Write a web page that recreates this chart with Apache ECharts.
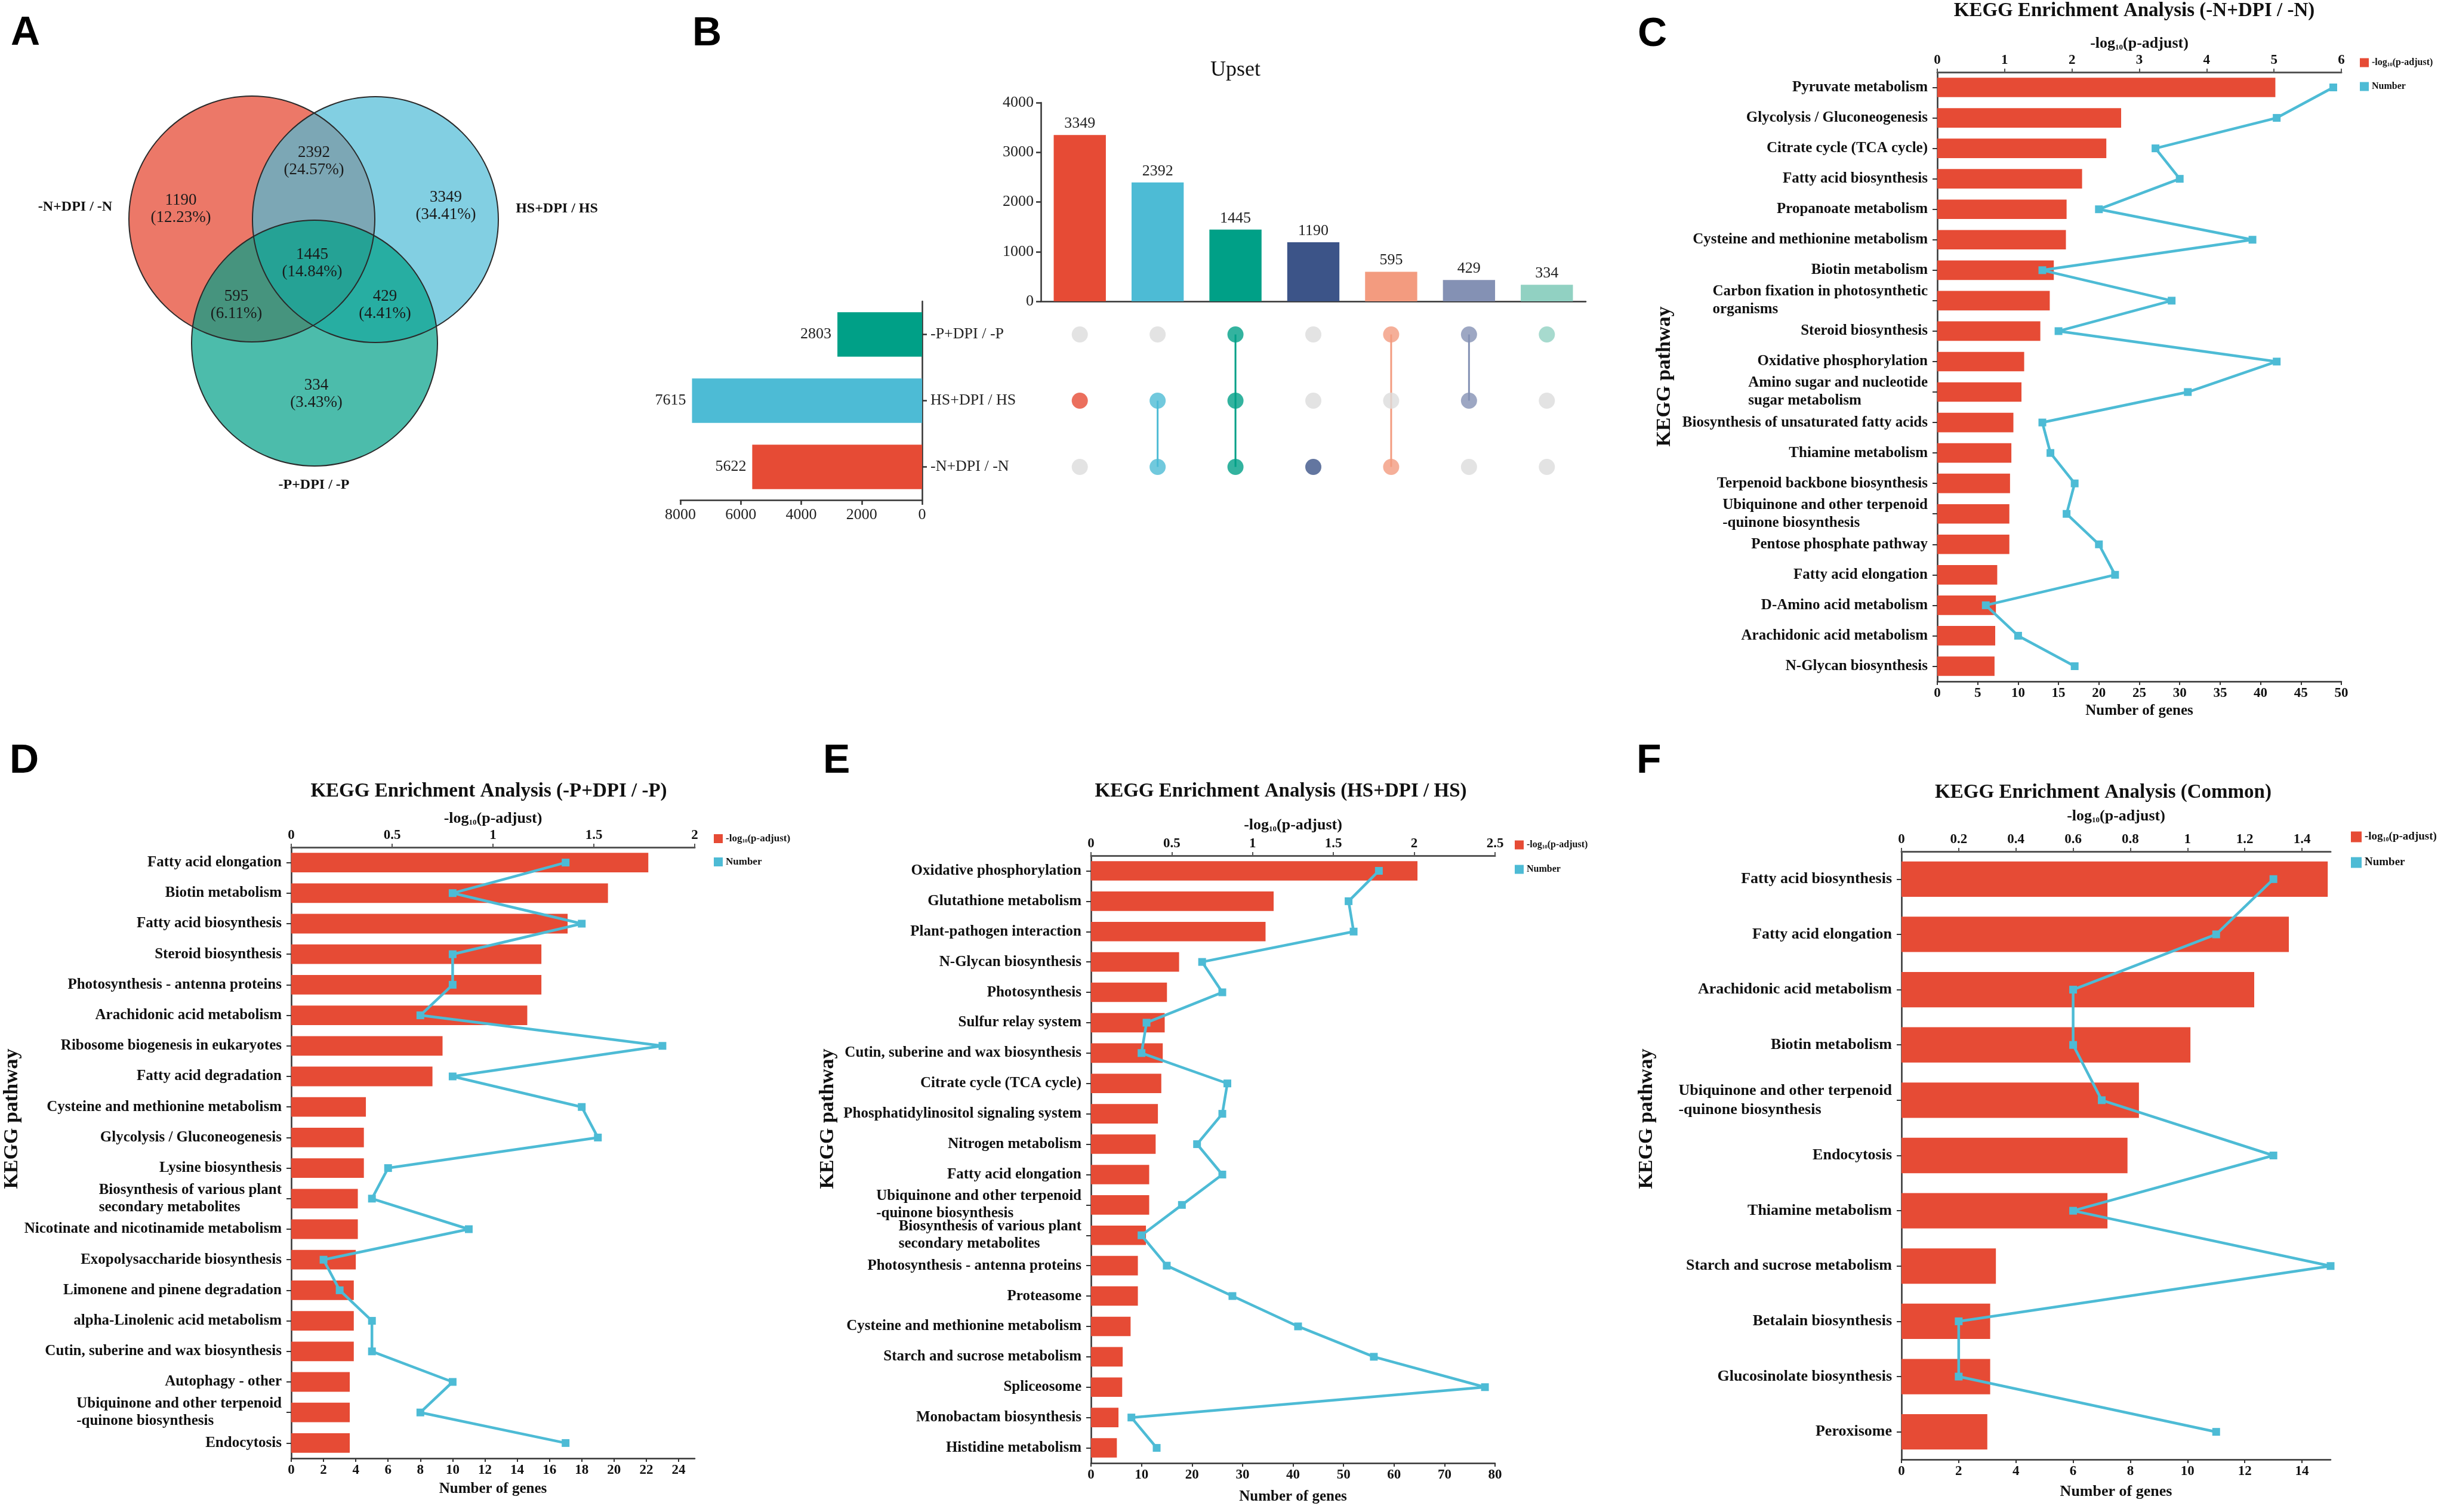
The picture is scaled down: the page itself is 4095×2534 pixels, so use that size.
<!DOCTYPE html>
<html><head><meta charset="utf-8">
<script src="https://cdn.jsdelivr.net/npm/echarts@6/dist/echarts.min.js"></script>
<style>html,body{margin:0;padding:0;background:#fff}#c{width:4095px;height:2534px}</style>
</head><body><div id="c"></div>
<script>
// ---------------- DATA ----------------
const setNames = ['-N+DPI / -N', 'HS+DPI / HS', '-P+DPI / -P'];
const setSizes = [5622, 7615, 2803];
const interCounts = [3349, 2392, 1445, 1190, 595, 429, 334];
const interMembers = [[1], [0, 1], [0, 1, 2], [0], [0, 2], [1, 2], [2]];

const C_pathways = ['Pyruvate metabolism', 'Glycolysis / Gluconeogenesis', 'Citrate cycle (TCA cycle)', 'Fatty acid biosynthesis', 'Propanoate metabolism', 'Cysteine and methionine metabolism', 'Biotin metabolism', 'Carbon fixation in photosynthetic\norganisms', 'Steroid biosynthesis', 'Oxidative phosphorylation', 'Amino sugar and nucleotide\nsugar metabolism', 'Biosynthesis of unsaturated fatty acids', 'Thiamine metabolism', 'Terpenoid backbone biosynthesis', 'Ubiquinone and other terpenoid\n-quinone biosynthesis', 'Pentose phosphate pathway', 'Fatty acid elongation', 'D-Amino acid metabolism', 'Arachidonic acid metabolism', 'N-Glycan biosynthesis'];
const C_logp = [5.02, 2.73, 2.51, 2.15, 1.92, 1.91, 1.73, 1.67, 1.53, 1.29, 1.25, 1.13, 1.10, 1.08, 1.07, 1.07, 0.89, 0.87, 0.86, 0.85];
const C_genes = [49, 42, 27, 30, 20, 39, 13, 29, 15, 42, 31, 13, 14, 17, 16, 20, 22, 6, 10, 17];

const D_pathways = ['Fatty acid elongation', 'Biotin metabolism', 'Fatty acid biosynthesis', 'Steroid biosynthesis', 'Photosynthesis - antenna proteins', 'Arachidonic acid metabolism', 'Ribosome biogenesis in eukaryotes', 'Fatty acid degradation', 'Cysteine and methionine metabolism', 'Glycolysis / Gluconeogenesis', 'Lysine biosynthesis', 'Biosynthesis of various plant\nsecondary metabolites', 'Nicotinate and nicotinamide metabolism', 'Exopolysaccharide biosynthesis', 'Limonene and pinene degradation', 'alpha-Linolenic acid metabolism', 'Cutin, suberine and wax biosynthesis', 'Autophagy - other', 'Ubiquinone and other terpenoid\n-quinone biosynthesis', 'Endocytosis'];
const D_logp = [1.77, 1.57, 1.37, 1.24, 1.24, 1.17, 0.75, 0.70, 0.37, 0.36, 0.36, 0.33, 0.33, 0.32, 0.31, 0.31, 0.31, 0.29, 0.29, 0.29];
const D_genes = [17, 10, 18, 10, 10, 8, 23, 10, 18, 19, 6, 5, 11, 2, 3, 5, 5, 10, 8, 17];

const E_pathways = ['Oxidative phosphorylation', 'Glutathione metabolism', 'Plant-pathogen interaction', 'N-Glycan biosynthesis', 'Photosynthesis', 'Sulfur relay system', 'Cutin, suberine and wax biosynthesis', 'Citrate cycle (TCA cycle)', 'Phosphatidylinositol signaling system', 'Nitrogen metabolism', 'Fatty acid elongation', 'Ubiquinone and other terpenoid\n-quinone biosynthesis', 'Biosynthesis of various plant\nsecondary metabolites', 'Photosynthesis - antenna proteins', 'Proteasome', 'Cysteine and methionine metabolism', 'Starch and sucrose metabolism', 'Spliceosome', 'Monobactam biosynthesis', 'Histidine metabolism'];
const E_logp = [2.02, 1.13, 1.08, 0.545, 0.47, 0.456, 0.444, 0.435, 0.414, 0.40, 0.36, 0.36, 0.34, 0.29, 0.29, 0.245, 0.196, 0.193, 0.17, 0.16];
const E_genes = [57, 51, 52, 22, 26, 11, 10, 27, 26, 21, 26, 18, 10, 15, 28, 41, 56, 78, 8, 13];

const F_pathways = ['Fatty acid biosynthesis', 'Fatty acid elongation', 'Arachidonic acid metabolism', 'Biotin metabolism', 'Ubiquinone and other terpenoid\n-quinone biosynthesis', 'Endocytosis', 'Thiamine metabolism', 'Starch and sucrose metabolism', 'Betalain biosynthesis', 'Glucosinolate biosynthesis', 'Peroxisome'];
const F_logp = [1.49, 1.354, 1.233, 1.01, 0.83, 0.79, 0.72, 0.33, 0.31, 0.31, 0.30];
const F_genes = [13, 11, 6, 6, 7, 13, 6, 15, 2, 2, 11];

// ---------------- STYLE / LAYOUT ----------------
const FONT = 'Liberation Serif';
const SANS = 'Liberation Sans';
const BAR_RED = '#E64B35';
const LINE_CYAN = '#4DBBD5';
const AXIS = '#333';
const TXT = '#111';
const setColors = ['#E64B35', '#4DBBD5', '#00A087'];
const interColors = ['#E64B35', '#4DBBD5', '#00A087', '#3C5488', '#F39B7F', '#8491B4', '#91D1C2'];
const vennFill = ['rgba(230,75,53,0.75)', 'rgba(77,187,213,0.7)', 'rgba(0,160,135,0.7)'];

const grids = [], xAxes = [], yAxes = [], series = [], legends = [], graphics = [];
const axisLineStyle = { color: AXIS, width: 2.5 };
const plainNum = v => String(v);

// ---------------- Panel letters ----------------
[['A', 18, 56], ['B', 1160, 57], ['C', 2744, 58], ['D', 16, 1276], ['E', 1379, 1276], ['F', 2742, 1276]].forEach(([t, x, y]) => {
  graphics.push({ type: 'text', x, y, style: { text: t, fontFamily: SANS, fontWeight: 'bold', fontSize: 68, fill: '#000', align: 'left', verticalAlign: 'middle' } });
});

// ---------------- Panel A: Venn ----------------
const vennCircles = [[422, 367], [629, 368], [527, 575]];
const vennR = 206;
const vennLabelPos = [[126, 347], [933, 350], [526, 813]];
const vennRegionPos = [[747, 345], [526, 270], [523, 441], [303, 350], [396, 511], [645, 511], [530, 660]];
const total = interCounts.reduce((a, b) => a + b, 0);
vennCircles.forEach(([cx, cy], j) => graphics.push({ type: 'circle', shape: { cx, cy, r: vennR }, style: { fill: vennFill[j] } }));
vennCircles.forEach(([cx, cy]) => graphics.push({ type: 'circle', shape: { cx, cy, r: vennR }, style: { fill: 'none', stroke: '#2a2a2a', lineWidth: 2 } }));
setNames.forEach((n, j) => graphics.push({ type: 'text', x: vennLabelPos[j][0], y: vennLabelPos[j][1], style: { text: n, fontFamily: FONT, fontWeight: 'bold', fontSize: 24, fill: TXT, align: 'center', verticalAlign: 'middle' } }));
interCounts.forEach((v, i) => graphics.push({ type: 'text', x: vennRegionPos[i][0], y: vennRegionPos[i][1], style: { text: v + '\n(' + (v / total * 100).toFixed(2) + '%)', fontFamily: FONT, fontSize: 27, lineHeight: 29, fill: '#1a1a1a', align: 'center', verticalAlign: 'middle' } }));

// ---------------- Panel B: UpSet ----------------
graphics.push({ type: 'text', x: 2070, y: 118, style: { text: 'Upset', fontFamily: FONT, fontSize: 36, fill: TXT, align: 'center', verticalAlign: 'middle' } });
const interNames = interMembers.map(m => m.map(j => setNames[j]).join(' & '));
grids.push({ left: 1744, top: 172, width: 913, height: 333, outerBoundsMode: 'none' });
grids.push({ left: 1744, top: 505, width: 913, height: 333, outerBoundsMode: 'none' });
grids.push({ left: 1140, top: 505, width: 405, height: 333, outerBoundsMode: 'none' });
xAxes.push({ gridIndex: 0, type: 'category', data: interNames, axisLine: { lineStyle: axisLineStyle }, axisTick: { alignWithLabel: true, length: 10, lineStyle: axisLineStyle }, axisLabel: { show: false } });
yAxes.push({ gridIndex: 0, type: 'value', min: 0, max: 4000, interval: 1000, axisLine: { show: true, lineStyle: axisLineStyle }, axisTick: { show: true, length: 8, lineStyle: axisLineStyle }, splitLine: { show: false }, axisLabel: { formatter: plainNum, fontFamily: FONT, fontSize: 26, color: '#222', margin: 12 } });
xAxes.push({ gridIndex: 1, type: 'category', data: interNames, show: false });
yAxes.push({ gridIndex: 1, type: 'category', data: setNames, show: false });
xAxes.push({ gridIndex: 2, type: 'value', inverse: true, min: 0, max: 8000, interval: 2000, position: 'bottom', axisLine: { show: true, lineStyle: axisLineStyle }, axisTick: { show: true, length: 8, lineStyle: axisLineStyle }, splitLine: { show: false }, axisLabel: { formatter: plainNum, fontFamily: FONT, fontSize: 26, color: '#222', margin: 12 } });
yAxes.push({ gridIndex: 2, type: 'category', data: setNames, position: 'right', axisLine: { show: true, lineStyle: axisLineStyle }, axisTick: { show: true, alignWithLabel: true, length: 8, lineStyle: axisLineStyle }, axisLabel: { fontFamily: FONT, fontSize: 26, color: '#222', margin: 14 } });

series.push({ type: 'bar', xAxisIndex: 0, yAxisIndex: 0, barCategoryGap: '33%', data: interCounts.map((v, i) => ({ value: v, itemStyle: { color: interColors[i] } })), label: { show: true, position: 'top', distance: 6, fontFamily: FONT, fontSize: 26, color: '#222' } });
const grayDots = [], colorDots = [];
interMembers.forEach((m, i) => {
  for (let j = 0; j < setNames.length; j++) {
    if (m.includes(j)) colorDots.push({ value: [i, j], itemStyle: { color: interColors[i] } });
    else grayDots.push([i, j]);
  }
  if (m.length > 1) {
    series.push({ type: 'line', xAxisIndex: 1, yAxisIndex: 1, data: [[i, Math.min(...m)], [i, Math.max(...m)]], symbol: 'none', lineStyle: { color: interColors[i], width: 3 }, z: 1, silent: true });
  }
});
series.push({ type: 'scatter', xAxisIndex: 1, yAxisIndex: 1, data: grayDots, symbolSize: 27, itemStyle: { color: '#DCDCDC' }, z: 2 });
series.push({ type: 'scatter', xAxisIndex: 1, yAxisIndex: 1, data: colorDots, symbolSize: 27, z: 3 });
series.push({ type: 'bar', xAxisIndex: 2, yAxisIndex: 2, barCategoryGap: '33%', data: setSizes.map((v, j) => ({ value: v, itemStyle: { color: setColors[j] } })), label: { show: true, position: 'left', distance: 10, fontFamily: FONT, fontSize: 26, color: '#222' } });

// ---------------- KEGG panels ----------------
const kegg = [
  { title: 'KEGG Enrichment Analysis (-N+DPI / -N)', names: C_pathways, logp: C_logp, genes: C_genes,
    grid: { left: 3246, top: 121, width: 677, height: 1021 }, topMax: 6, topInt: 1, botMax: 50, botInt: 5,
    titlePos: [3576, 18], topGap: 35, botGap: 37, yName: [2789, 631], legend: [3949, 92, 24], lfs: 16, lsz: 15, fs: 25, lh: 30, afs: 25 },
  { title: 'KEGG Enrichment Analysis (-P+DPI / -P)', names: D_pathways, logp: D_logp, genes: D_genes,
    grid: { left: 488, top: 1420, width: 676, height: 1024 }, topMax: 2, topInt: 0.5, botMax: 25, botInt: 2, hideBotMax: true,
    titlePos: [819, 1326], topGap: 35, botGap: 39, yName: [20, 1875], legend: [1191, 1392, 22], lfs: 17, lsz: 15, fs: 25, lh: 29, afs: 25 },
  { title: 'KEGG Enrichment Analysis (HS+DPI / HS)', names: E_pathways, logp: E_logp, genes: E_genes,
    grid: { left: 1828, top: 1434, width: 677, height: 1018 }, topMax: 2.5, topInt: 0.5, botMax: 80, botInt: 10,
    titlePos: [2146, 1326], topGap: 38, botGap: 44, yName: [1387, 1875], legend: [2533, 1403, 25], lfs: 16, lsz: 15, fs: 25, lh: 29, afs: 25 },
  { title: 'KEGG Enrichment Analysis (Common)', names: F_pathways, logp: F_logp, genes: F_genes,
    grid: { left: 3186, top: 1427, width: 719, height: 1019 }, topMax: 1.5, topInt: 0.2, botMax: 15, botInt: 2, hideTopMax: true, hideBotMax: true,
    titlePos: [3524, 1328], topGap: 46, botGap: 41, yName: [2759, 1875], legend: [3934, 1388, 24], lfs: 19, lsz: 18, fs: 26, lh: 32, afs: 26 }
];

const boldText = (size) => ({ fontFamily: FONT, fontWeight: 'bold', fontSize: size, color: TXT });

kegg.forEach((p, k) => {
  const g = grids.length;
  grids.push(Object.assign({ outerBoundsMode: 'none' }, p.grid));
  const xTop = xAxes.length;
  xAxes.push({ gridIndex: g, type: 'value', position: 'top', min: 0, max: p.topMax, interval: p.topInt,
    name: '-log{s|10}(p-adjust)', nameLocation: 'middle', nameGap: p.topGap,
    nameTextStyle: Object.assign(boldText(26), { rich: { s: { fontFamily: FONT, fontWeight: 'bold', fontSize: 13, verticalAlign: 'bottom', color: TXT } } }),
    axisLine: { show: true, lineStyle: { color: '#555', width: 3 } }, axisTick: { show: true, length: 6, lineStyle: { color: '#555', width: 2 } },
    splitLine: { show: false }, axisLabel: Object.assign(boldText(23), { margin: 8, showMinLabel: true, showMaxLabel: !p.hideTopMax }) });
  const xBot = xAxes.length;
  xAxes.push({ gridIndex: g, type: 'value', position: 'bottom', min: 0, max: p.botMax, interval: p.botInt,
    name: 'Number of genes', nameLocation: 'middle', nameGap: p.botGap, nameTextStyle: boldText(p.afs),
    axisLine: { show: true, lineStyle: axisLineStyle }, axisTick: { show: true, length: 6, lineStyle: { color: AXIS, width: 2 } },
    splitLine: { show: false }, axisLabel: Object.assign(boldText(23), { margin: 9, showMinLabel: true, showMaxLabel: !p.hideBotMax }) });
  const yi = yAxes.length;
  yAxes.push({ gridIndex: g, type: 'category', inverse: true, data: p.names,
    axisLine: { show: true, lineStyle: axisLineStyle }, axisTick: { show: true, alignWithLabel: true, length: 8, lineStyle: { color: AXIS, width: 2 } },
    axisLabel: { interval: 0, margin: 16, formatter: v => v.split('\n').map(s => '{a|' + s + '}').join('\n'),
      rich: { a: { align: 'left', fontFamily: FONT, fontWeight: 'bold', fontSize: p.fs, lineHeight: p.lh, color: TXT } } } });
  series.push({ type: 'bar', name: '-log10(p-adjust)', xAxisIndex: xTop, yAxisIndex: yi, data: p.logp, barCategoryGap: '36%', itemStyle: { color: BAR_RED } });
  series.push({ type: 'line', name: 'Number', xAxisIndex: xBot, yAxisIndex: yi, data: p.genes.map((v, i) => [v, i]), symbol: 'rect', symbolSize: 13,
    lineStyle: { color: LINE_CYAN, width: 4.5 }, itemStyle: { color: LINE_CYAN }, z: 4 });
  legends.push({ left: p.legend[0], top: p.legend[1], orient: 'vertical', itemWidth: p.lsz, itemHeight: p.lsz, itemGap: p.legend[2], selectedMode: false,
    data: [{ name: '-log10(p-adjust)', icon: 'rect' }, { name: 'Number', icon: 'rect' }],
    formatter: n => n === 'Number' ? 'Number' : '-log{s|10}(p-adjust)',
    textStyle: Object.assign(boldText(p.lfs), { rich: { s: { fontFamily: FONT, fontWeight: 'bold', fontSize: Math.round(p.lfs * 0.55), verticalAlign: 'bottom', color: TXT } } }) });
  graphics.push({ type: 'text', x: p.titlePos[0], y: p.titlePos[1], style: { text: p.title, fontFamily: FONT, fontWeight: 'bold', fontSize: 33, fill: TXT, align: 'center', verticalAlign: 'middle' } });
  graphics.push({ type: 'text', x: p.yName[0], y: p.yName[1], rotation: Math.PI / 2, style: { text: 'KEGG pathway', fontFamily: FONT, fontWeight: 'bold', fontSize: 34, fill: TXT, align: 'center', verticalAlign: 'middle' } });
});

const chart = echarts.init(document.getElementById('c'), null, { renderer: 'canvas', width: 4095, height: 2534 });
chart.setOption({
  backgroundColor: '#ffffff',
  animation: false,
  textStyle: { fontFamily: FONT },
  grid: grids, xAxis: xAxes, yAxis: yAxes, series, legend: legends,
  graphic: { elements: graphics }
});
</script></body></html>
